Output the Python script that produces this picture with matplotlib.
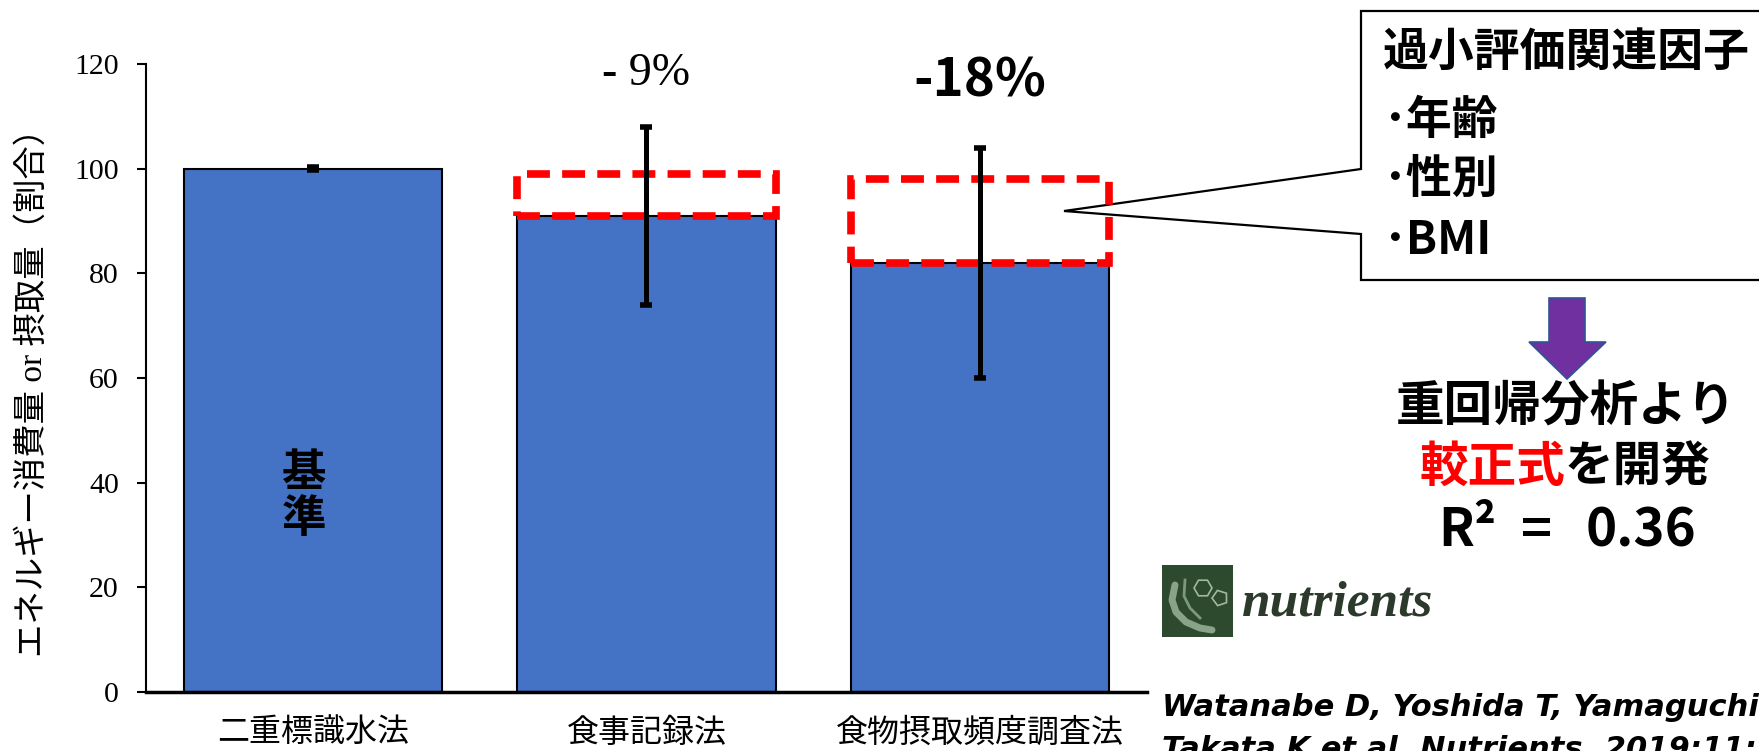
import matplotlib
matplotlib.use("Agg")
import matplotlib.pyplot as plt
from matplotlib.patches import Rectangle, Polygon, RegularPolygon


# =========================
# 1. Data
# =========================

methods = ["二重標識水法", "食事記録法", "食物摂取頻度調査法"]
ratio = [100, 91, 82]           # energy relative to DLW (%)
ratio_sd = [0.3, 17, 22]        # error bar half-length
gap_top = [None, 99, 98]        # top of red dashed "missing" box
diff_labels = [None, "- 9%", "-18%"]

factors = ["過小評価関連因子", "･年齢", "･性別", "･BMI"]

W, H = 1759, 751
BLUE = "#4472C4"
JP = ["Noto Sans CJK JP", "DejaVu Sans"]
SERIF_JP = ["Liberation Serif", "Noto Sans CJK JP"]


# =========================
# 2. Figure + main axes
# =========================

fig = plt.figure(figsize=(W / 100, H / 100), dpi=100)
ax = fig.add_axes([146 / W, 1 - 692 / H, 1001 / W, 628 / H], zorder=2)
ax.patch.set_visible(False)

x = list(range(len(methods)))
bw = 0.775

ax.bar(x, ratio, width=bw, color=BLUE, edgecolor="black", linewidth=1.5, zorder=2)

# red dashed boxes for the under-reported part
for i, top in enumerate(gap_top):
    if top is None:
        continue
    ax.add_patch(Rectangle((i - bw / 2, ratio[i]), bw, top - ratio[i],
                           fill=False, edgecolor="#FF0000", linewidth=5.5,
                           linestyle=(0, (3, 1.6)), zorder=3, clip_on=False))

ax.errorbar(x, ratio, yerr=ratio_sd, fmt="none", ecolor="black",
            elinewidth=3.6, capsize=4.5, capthick=4, zorder=4)

ax.set_xlim(-0.5, 2.5)
ax.set_ylim(0, 120)
ax.set_yticks(range(0, 121, 20))
ax.set_xticks(x)
ax.set_xticklabels(methods, family=SERIF_JP, fontsize=23)
for lab in ax.get_yticklabels():
    lab.set_family("Liberation Serif")
    lab.set_fontsize(21.5)

ax.tick_params(axis="x", length=0, pad=19)
ax.tick_params(axis="y", length=6.5, width=1.5, pad=13, direction="out")
ax.spines["top"].set_visible(False)
ax.spines["right"].set_visible(False)
ax.spines["left"].set_linewidth(1.5)
ax.spines["bottom"].set_linewidth(2.5)

ax.text(-0.113, 0.49, "エネルギー消費量 or 摂取量（割合）", transform=ax.transAxes,
        rotation=90, ha="center", va="center", fontsize=24, family=SERIF_JP)

# percent differences above bars
ax.text(1, 118.1, diff_labels[1], ha="center", va="center",
        fontsize=33, family="Liberation Serif", clip_on=False)
ax.text(2, 116.8, diff_labels[2], ha="center", va="center",
        fontsize=38, family=JP, fontweight="bold", clip_on=False)

# reference label inside first bar
ax.text(-0.027, 37.5, "基\n準", ha="center", va="center", fontsize=32,
        family=JP, fontweight="bold", linespacing=1.0)


# =========================
# 3. Overlay in pixel coords (callout, arrow, notes)
# =========================

ov = fig.add_axes([0, 0, 1, 1], zorder=1)
ov.set_xlim(0, W)
ov.set_ylim(H, 0)
ov.axis("off")

callout = [(1361, 11), (1790, 11), (1790, 280), (1361, 280), (1361, 234),
           (1064, 211), (1361, 169)]
ov.add_patch(Polygon(callout, closed=True, facecolor="white",
                     edgecolor="black", linewidth=1.6, clip_on=False))

ys = [53, 121, 180, 241]
for txt, yy in zip(factors, ys):
    ov.text(1383, yy, txt, ha="left", va="center", fontsize=33,
            family=JP, fontweight="bold")

arrow = [(1549, 298), (1585, 298), (1585, 342), (1606, 342), (1567, 379),
         (1529, 342), (1549, 342)]
ov.add_patch(Polygon(arrow, closed=True, facecolor="#7030A0",
                     edgecolor="#2F5597", linewidth=1.2))

ov.text(1566, 407, "重回帰分析より", ha="center", va="center", fontsize=35,
        family=JP, fontweight="bold")
ov.text(1565, 467, "較正式", ha="right", va="center", fontsize=35,
        family=JP, fontweight="bold", color="#FF0000")
ov.text(1565, 467, "を開発", ha="left", va="center", fontsize=35,
        family=JP, fontweight="bold")
# R² = 0.36, pieces spaced like the slide
ov.text(1438, 531, "R²", ha="left", va="center", fontsize=38,
        family=JP, fontweight="bold")
ov.text(1537, 531, "=", ha="center", va="center", fontsize=38,
        family=JP, fontweight="bold")
ov.text(1696, 531, "0.36", ha="right", va="center", fontsize=38,
        family=JP, fontweight="bold")

# journal logo
ov.add_patch(Rectangle((1162, 565), 71, 72, facecolor="#2E4A2E", edgecolor="none"))
leaf_c = "#9FBA9F"
ov.add_patch(RegularPolygon((1203, 588), 6, radius=9, orientation=0.52,
                            fill=False, edgecolor=leaf_c, linewidth=1.2))
ov.add_patch(RegularPolygon((1220, 598), 5, radius=8, orientation=0.3,
                            fill=False, edgecolor=leaf_c, linewidth=1.2))
ov.plot([1175, 1172, 1176, 1186, 1200, 1212], [585, 600, 612, 622, 628, 630],
        color=leaf_c, linewidth=5, alpha=0.8, solid_capstyle="round")
ov.plot([1185, 1184, 1190, 1200], [580, 596, 608, 618],
        color=leaf_c, linewidth=2, alpha=0.7)
ov.text(1242, 615, "nutrients", ha="left", va="baseline", fontsize=37,
        family="Liberation Serif", fontweight="bold", style="italic", color="#2B3A2B")

# citation
ov.text(1162, 708, "Watanabe D, Yoshida T, Yamaguchi", ha="left", va="center",
        fontsize=22, family="DejaVu Sans", fontweight="bold", style="italic")
ov.text(1162, 749, "Takata K et al. Nutrients. 2019;11:", ha="left", va="center",
        fontsize=22, family="DejaVu Sans", fontweight="bold", style="italic")

fig.savefig("out.png", dpi=100)
